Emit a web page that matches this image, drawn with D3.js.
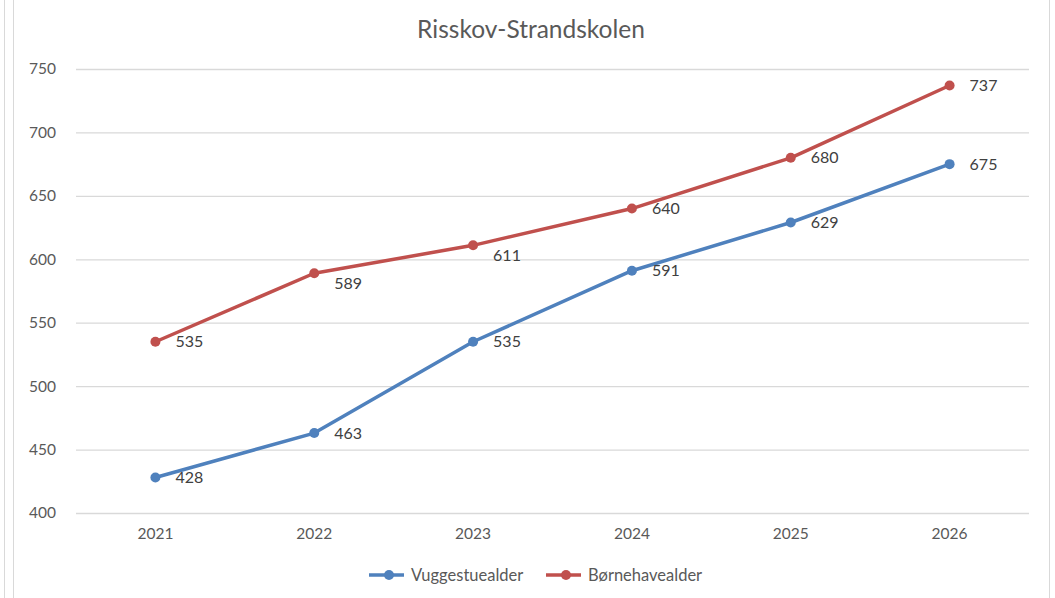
<!DOCTYPE html>
<html>
<head>
<meta charset="utf-8">
<script src="https://cdn.jsdelivr.net/npm/d3@7"></script>
<style>
  html, body { margin: 0; padding: 0; background: #fff; }
  text { font-family: Lato, "Open Sans", "DejaVu Sans", sans-serif; }
</style>
</head>
<body>
<div id="chart"></div>
<script>
// Data
const years = ["2021", "2022", "2023", "2024", "2025", "2026"];
const vuggestue = [428, 463, 535, 591, 629, 675];
const boernehave = [535, 589, 611, 640, 680, 737];
const yTicks = [400, 450, 500, 550, 600, 650, 700, 750];
const seriesNames = ["Vuggestuealder", "Børnehavealder"];
const COLORS = ["#4f81bd", "#c0504d"];

const width = 1055;
const height = 598;
const margin = { top: 69, bottom: 85, left: 76, right: 26 };

const svg = d3.select("#chart")
    .append("svg")
    .attr("width", width)
    .attr("height", height);

// frame lines at the edges
svg.append("line").attr("x1", 4.5).attr("x2", 4.5).attr("y1", 0).attr("y2", height)
    .attr("stroke", "#d9d9d9").attr("stroke-width", 1);
svg.append("line").attr("x1", 13.5).attr("x2", 13.5).attr("y1", 0).attr("y2", height)
    .attr("stroke", "#d9d9d9").attr("stroke-width", 1);
svg.append("line").attr("x1", 1049.5).attr("x2", 1049.5).attr("y1", 0).attr("y2", height)
    .attr("stroke", "#d9d9d9").attr("stroke-width", 1);

// scales
const escalaX = d3.scaleBand()
    .domain(years)
    .range([margin.left, width - margin.right]);

const escalaY = d3.scaleLinear()
    .domain([400, 750])
    .range([height - margin.bottom, margin.top]);

const cx = d => escalaX(d) + escalaX.bandwidth() / 2;

// grid + y axis
const ejeY = d3.axisLeft(escalaY)
    .tickValues(yTicks)
    .tickSize(-(width - margin.left - margin.right))
    .tickPadding(20);

const gY = svg.append("g")
    .attr("transform", `translate(${margin.left},0)`)
    .call(ejeY);
gY.select(".domain").remove();
gY.selectAll(".tick line").attr("stroke", "#d9d9d9").attr("stroke-width", 1.3);
gY.selectAll(".tick text")
    .attr("fill", "#595959")
    .attr("font-size", 15.5);

// x axis labels
const ejeX = d3.axisBottom(escalaX).tickSize(0).tickPadding(15);
const gX = svg.append("g")
    .attr("transform", `translate(0,${height - margin.bottom})`)
    .call(ejeX);
gX.select(".domain").remove();
gX.selectAll(".tick text")
    .attr("fill", "#595959")
    .attr("font-size", 15.5);

// title
svg.append("text")
    .attr("x", 531)
    .attr("y", 38)
    .attr("text-anchor", "middle")
    .attr("fill", "#595959")
    .attr("font-size", 24.5)
    .text("Risskov-Strandskolen");

// lines
const series = [vuggestue, boernehave];
const line = d3.line()
    .x((d, i) => cx(years[i]))
    .y(d => escalaY(d));

series.forEach((vals, s) => {
    const g = svg.append("g");
    g.append("path")
        .datum(vals)
        .attr("d", line)
        .attr("fill", "none")
        .attr("stroke", COLORS[s])
        .attr("stroke-width", 3.5)
        .attr("stroke-linejoin", "round");

    g.selectAll("circle")
        .data(vals)
        .join("circle")
        .attr("cx", (d, i) => cx(years[i]))
        .attr("cy", d => escalaY(d))
        .attr("r", 5)
        .attr("fill", COLORS[s]);

    // data labels to the right; pushed down when the next segment is flat
    g.selectAll("text")
        .data(vals)
        .join("text")
        .attr("x", (d, i) => cx(years[i]) + 20)
        .attr("y", (d, i) => {
            let y = escalaY(d);
            if (i < vals.length - 1) {
                const slope = (escalaY(d) - escalaY(vals[i + 1])) / escalaX.step();
                if (slope < 0.25 && s === 1) y += 10;
            }
            return y;
        })
        .attr("dy", "0.35em")
        .attr("fill", "#404040")
        .attr("font-size", 16)
        .text(d => d);
});

// legend
const legendX = [369, 546];
const legendY = 575;
seriesNames.forEach((name, s) => {
    const g = svg.append("g").attr("transform", `translate(${legendX[s]},${legendY})`);
    g.append("line").attr("x1", 0).attr("x2", 35).attr("y1", 0).attr("y2", 0)
        .attr("stroke", COLORS[s]).attr("stroke-width", 3.5);
    g.append("circle").attr("cx", 20).attr("cy", 0).attr("r", 5).attr("fill", COLORS[s]);
    g.append("text").attr("x", 42).attr("y", 0).attr("dy", "0.35em")
        .attr("fill", "#595959").attr("font-size", 16.5).text(name);
});
</script>
</body>
</html>
